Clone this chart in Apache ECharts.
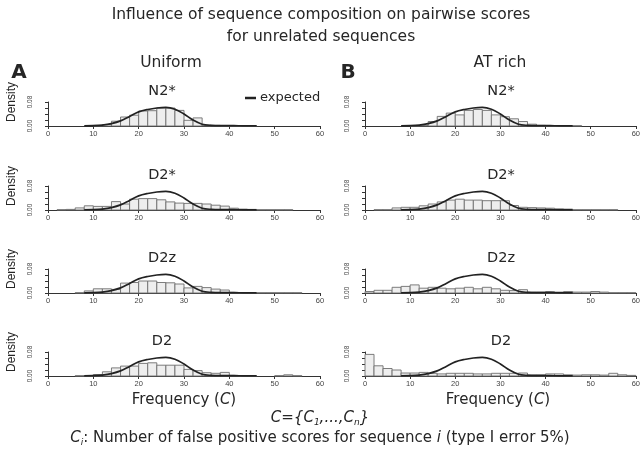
<!DOCTYPE html>
<html>
<head>
<meta charset="utf-8">
<script src="https://cdn.jsdelivr.net/npm/echarts@6/dist/echarts.min.js"></script>
<style>
  html, body { margin: 0; padding: 0; background: #fff; }
  #chart { width: 643px; height: 450px; }
</style>
</head>
<body>
<div id="chart"></div>
<script>
(function() {
  // histogram bins (left edge, width 2)
  var binStarts = [0, 2, 4, 6, 8, 10, 12, 14, 16, 18, 20, 22, 24, 26, 28, 30, 32, 34, 36, 38, 40, 42, 44, 46, 48, 50, 52, 54, 56, 58];
  var binWidth = 2;

  // densities
  var n2sUniform = [0, 0, 0, 0, 0, 0.002, 0.005, 0.016, 0.030, 0.036, 0.050, 0.051, 0.060, 0.060, 0.052, 0.019, 0.027, 0.003, 0.002, 0.001, 0.001, 0.001, 0.001, 0, 0, 0, 0, 0, 0, 0];
  var n2sATrich = [0, 0, 0, 0, 0, 0.001, 0.002, 0.015, 0.032, 0.043, 0.037, 0.052, 0.055, 0.052, 0.037, 0.031, 0.024, 0.015, 0.006, 0.002, 0.001, 0.001, 0.001, 0.001, 0, 0, 0, 0, 0, 0];
  var d2sUniform = [0, 0.001, 0.002, 0.007, 0.014, 0.012, 0.012, 0.028, 0.020, 0.036, 0.038, 0.038, 0.034, 0.027, 0.023, 0.022, 0.022, 0.020, 0.016, 0.013, 0.006, 0.003, 0.002, 0.001, 0.001, 0.001, 0.001, 0, 0, 0];
  var d2sATrich = [0, 0.001, 0.001, 0.007, 0.009, 0.009, 0.014, 0.020, 0.027, 0.033, 0.036, 0.033, 0.033, 0.031, 0.031, 0.031, 0.015, 0.009, 0.008, 0.007, 0.006, 0.004, 0.003, 0.001, 0.001, 0.001, 0.001, 0.001, 0, 0];
  var d2zUniform = [0, 0, 0, 0.001, 0.007, 0.014, 0.014, 0.012, 0.033, 0.035, 0.040, 0.040, 0.035, 0.034, 0.030, 0.017, 0.022, 0.018, 0.013, 0.010, 0.002, 0.001, 0.001, 0.001, 0.001, 0.001, 0.001, 0.001, 0, 0];
  var d2zATrich = [0.005, 0.009, 0.009, 0.019, 0.022, 0.027, 0.016, 0.019, 0.016, 0.014, 0.016, 0.019, 0.014, 0.019, 0.014, 0.009, 0.008, 0.011, 0.003, 0.003, 0.005, 0.003, 0.005, 0.003, 0.003, 0.005, 0.003, 0.001, 0.001, 0.001];
  var d2Uniform = [0, 0, 0, 0.001, 0.001, 0.005, 0.014, 0.027, 0.033, 0.033, 0.042, 0.044, 0.036, 0.036, 0.036, 0.022, 0.018, 0.011, 0.009, 0.012, 0.002, 0.001, 0.001, 0, 0, 0.001, 0.004, 0.001, 0, 0];
  var d2ATrich = [0.072, 0.034, 0.025, 0.020, 0.010, 0.010, 0.012, 0.009, 0.007, 0.009, 0.009, 0.009, 0.007, 0.007, 0.009, 0.009, 0.009, 0.010, 0.004, 0.004, 0.007, 0.007, 0.004, 0.003, 0.004, 0.004, 0.003, 0.009, 0.004, 0.002];

  // expected density curve
  var expectedX = [8, 10, 12, 14, 16, 18, 20, 22, 24, 26, 28, 30, 32, 34, 36, 38, 40, 42, 44, 46];
  var expectedY = [0.0005, 0.001, 0.003, 0.008, 0.017, 0.032, 0.047, 0.055, 0.060, 0.062, 0.056, 0.040, 0.020, 0.006, 0.002, 0.001, 0.001, 0.0008, 0.0005, 0.0002];

  var xTicks = [0, 60, 10];   // min, max, step
  var yTicks = [0, 0.08, 0.02];

  var panels = [
    { name: 'N2*', values: n2sUniform, col: 0, row: 0 },
    { name: 'N2*', values: n2sATrich, col: 1, row: 0 },
    { name: 'D2*', values: d2sUniform, col: 0, row: 1 },
    { name: 'D2*', values: d2sATrich, col: 1, row: 1 },
    { name: 'D2z', values: d2zUniform, col: 0, row: 2 },
    { name: 'D2z', values: d2zATrich, col: 1, row: 2 },
    { name: 'D2', values: d2Uniform, col: 0, row: 3 },
    { name: 'D2', values: d2ATrich, col: 1, row: 3 }
  ];

  var colLeft = [48, 365];
  var colTitleX = [162, 501];
  var rowBase = [126, 210, 293, 376];
  var plotW = 272, plotH = 24;
  var ink = '#262626';
  var sans = 'DejaVu Sans';
  var rfont = 'Liberation Sans';

  var curve = expectedX.map(function(x, i) { return [x, expectedY[i]]; });

  function renderBin(params, api) {
    var x0 = api.value(0), h = api.value(1);
    if (!(h > 0)) return null;
    var p0 = api.coord([x0, 0]);
    var p1 = api.coord([x0 + binWidth, h]);
    return {
      type: 'rect',
      shape: { x: p0[0], y: p1[1], width: p1[0] - p0[0], height: p0[1] - p1[1] },
      style: { fill: '#eeeeee', stroke: '#6e6e6e', lineWidth: 0.9 }
    };
  }

  var grid = [], xAxis = [], yAxis = [], series = [], graphic = [];

  panels.forEach(function(p, i) {
    var base = rowBase[p.row];
    grid.push({ left: colLeft[p.col], top: base - plotH, width: plotW, height: plotH });
    xAxis.push({
      gridIndex: i, type: 'value', min: xTicks[0], max: xTicks[1], interval: xTicks[2],
      axisLine: { show: true, lineStyle: { color: '#333', width: 1 } },
      axisTick: { show: true, length: 3, lineStyle: { color: '#333' } },
      axisLabel: { fontSize: 7.5, color: '#444', margin: 4, fontFamily: rfont },
      splitLine: { show: false }
    });
    yAxis.push({
      gridIndex: i, type: 'value', min: yTicks[0], max: yTicks[1], interval: yTicks[2],
      offset: 9,
      axisLine: { show: true, lineStyle: { color: '#333', width: 1 } },
      axisTick: { show: true, length: 3, lineStyle: { color: '#333' } },
      axisLabel: {
        rotate: 90, fontSize: 6.5, color: '#444', margin: 5, fontFamily: rfont,
        formatter: function(v) {
          if (Math.abs(v) < 1e-9 || Math.abs(v - 0.08) < 1e-9) return v.toFixed(2);
          return '';
        }
      },
      splitLine: { show: false }
    });
    series.push({
      type: 'custom', xAxisIndex: i, yAxisIndex: i,
      renderItem: renderBin,
      encode: { x: 0, y: 1 },
      data: binStarts.map(function(b, k) { return [b, p.values[k]]; }),
      silent: true, z: 2
    });
    series.push({
      type: 'line', xAxisIndex: i, yAxisIndex: i,
      data: curve, smooth: 0.35, showSymbol: false, symbol: 'none',
      lineStyle: { color: '#222', width: 1.7 },
      silent: true, z: 3
    });
    graphic.push({
      type: 'text', x: colTitleX[p.col], y: base - 35,
      style: { text: p.name, font: '14.5px "' + sans + '"', fill: ink, textAlign: 'center', textVerticalAlign: 'middle', align: 'center', verticalAlign: 'middle' }
    });
    if (p.col === 0) {
      graphic.push({
        type: 'text', x: 12, y: base - 24, rotation: Math.PI / 2,
        style: { text: 'Density', font: '12px "' + rfont + '"', fill: ink, textAlign: 'center', textVerticalAlign: 'middle', align: 'center', verticalAlign: 'middle' }
      });
    }
  });

  function txt(x, y, text, font, extra) {
    var st = { text: text, font: font, fill: ink, textAlign: 'center', textVerticalAlign: 'middle', align: 'center', verticalAlign: 'middle' };
    for (var k in extra) st[k] = extra[k];
    return { type: 'text', x: x, y: y, style: st };
  }

  graphic.push(txt(321, 15, 'Influence of sequence composition on pairwise scores', '15.5px "' + sans + '"'));
  graphic.push(txt(321, 37, 'for unrelated sequences', '15.5px "' + sans + '"'));
  graphic.push(txt(19, 73, 'A', 'bold 20px "' + sans + '"'));
  graphic.push(txt(348, 73, 'B', 'bold 20px "' + sans + '"'));
  graphic.push(txt(171, 63, 'Uniform', '15.5px "' + sans + '"'));
  graphic.push(txt(500, 63, 'AT rich', '15.5px "' + sans + '"'));
  graphic.push({ type: 'line', shape: { x1: 245, y1: 98, x2: 256, y2: 98 }, style: { stroke: '#222', lineWidth: 2.5 } });
  graphic.push(txt(260, 98, 'expected', '13px "' + sans + '"', { textAlign: 'left', align: 'left' }));

  var richBase = { fontFamily: sans, fontSize: 15, color: ink, lineHeight: 18 };
  function rs(extra) { var o = {}; for (var k in richBase) o[k] = richBase[k]; for (var k2 in extra) o[k2] = extra[k2]; return o; }

  graphic.push(txt(184, 400, '{n|Frequency (}{i|C}{n|)}', '15px "' + sans + '"', {
    rich: { n: rs({}), i: rs({ fontStyle: 'italic' }) }
  }));
  graphic.push(txt(498, 400, '{n|Frequency (}{i|C}{n|)}', '15px "' + sans + '"', {
    rich: { n: rs({}), i: rs({ fontStyle: 'italic' }) }
  }));
  graphic.push(txt(320, 418, '{i|C={C}{s|1}{i|,...,C}{s|n}{i|\u007d}', 'italic 15px "' + sans + '"', {
    rich: { i: rs({ fontStyle: 'italic' }), s: rs({ fontStyle: 'italic', fontSize: 9, verticalAlign: 'bottom' }) }
  }));
  graphic.push(txt(320, 438, '{i|C}{s|i}{n|: Number of false positive scores for sequence }{i|i}{n| (type I error 5%)}', '15px "' + sans + '"', {
    rich: { n: rs({}), i: rs({ fontStyle: 'italic' }), s: rs({ fontStyle: 'italic', fontSize: 9, verticalAlign: 'bottom' }) }
  }));

  var chart = echarts.init(document.getElementById('chart'), null, { renderer: 'canvas' });
  chart.setOption({
    animation: false,
    backgroundColor: '#fff',
    grid: grid,
    xAxis: xAxis,
    yAxis: yAxis,
    series: series,
    graphic: graphic
  });
  window.addEventListener('resize', function() { chart.resize(); });
})();
</script>
</body>
</html>
